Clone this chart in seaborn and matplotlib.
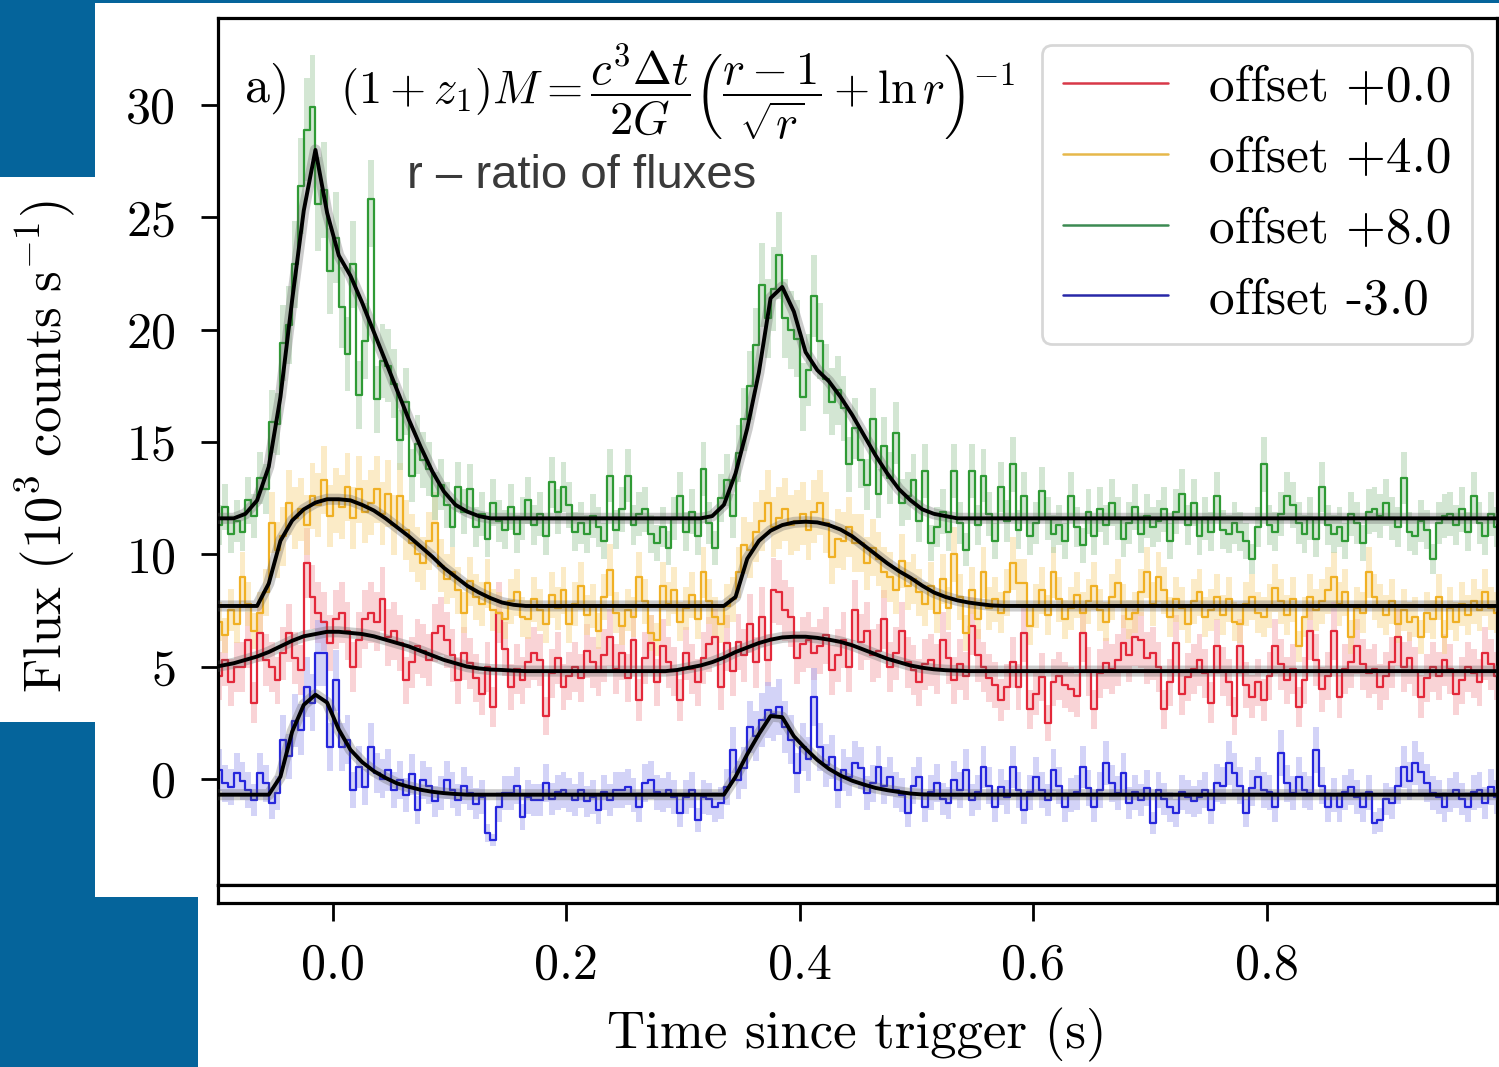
import numpy as np
import matplotlib
matplotlib.use("Agg")
import matplotlib.pyplot as plt
from matplotlib.patches import Rectangle
from matplotlib.lines import Line2D
import seaborn as sns

# ---------------------------------------------------------------------------
# Light curves (10^3 counts / s), 5 ms bins starting at t = -0.1 s
# ---------------------------------------------------------------------------
bin_start = -0.1
bin_width = 0.005

green_rate = [
    3.3, 4.1, 2.9, 3.5, 3.0, 4.4, 3.7, 5.4, 4.9, 7.9,
    7.8, 11.4, 12.2, 14.9, 18.4, 20.9, 21.9, 17.6, 18.2, 14.6,
    16.1, 13.0, 10.9, 14.9, 9.1, 11.5, 17.8, 8.9, 10.6, 10.4,
    9.6, 7.1, 8.8, 5.5, 6.9, 6.2, 5.8, 4.6, 5.1, 4.2,
    3.2, 5.0, 3.9, 4.9, 3.2, 3.8, 2.7, 4.3, 3.5, 3.1,
    4.1, 2.9, 3.6, 4.4, 3.3, 3.8, 2.8, 5.2, 3.9, 5.0,
    4.2, 3.0, 3.4, 2.9, 3.7, 3.2, 2.6, 5.5, 3.1, 4.0,
    5.5, 3.3, 3.8, 4.0, 2.9, 2.5, 3.2, 2.3, 3.6, 4.6,
    3.0, 3.9, 2.8, 5.8, 3.4, 2.3, 4.5, 5.3, 3.7, 6.5,
    8.0, 9.5, 11.3, 14.0, 12.5, 13.8, 15.3, 12.5, 12.0, 11.6,
    9.0, 10.2, 13.5, 11.5, 9.8, 8.8, 9.3, 8.5, 6.0, 7.6,
    6.2, 5.1, 8.0, 4.7, 6.8, 5.4, 7.4, 4.3, 4.6, 5.3,
    3.5, 5.7, 2.5, 3.2, 3.9, 3.0, 5.7, 3.4, 2.2, 5.7,
    3.3, 5.5, 3.8, 2.6, 5.0, 3.5, 6.0, 3.1, 4.6, 2.8,
    3.4, 4.8, 3.6, 2.9, 3.3, 2.6, 4.6, 3.2, 2.4, 3.9,
    2.8, 4.0, 3.3, 4.3, 3.6, 2.7, 3.4, 4.1, 2.9, 3.7,
    3.2, 3.5, 4.0, 2.6, 3.9, 4.7, 3.3, 4.3, 2.8, 3.6,
    3.0, 4.6, 3.1, 2.9, 3.4, 3.0, 2.6, 1.8, 3.2, 6.0,
    3.3, 3.0, 3.8, 4.6, 4.2, 3.4, 2.9, 3.6, 2.7, 5.0,
    3.3, 2.9, 3.2, 2.6, 3.8, 3.4, 2.5, 3.9, 4.0, 3.7,
    4.3, 3.6, 3.2, 5.4, 3.0, 2.8, 3.5, 3.1, 1.8, 3.4,
    3.7, 3.8, 3.3, 4.0, 3.0, 4.6, 3.4, 2.8, 3.8, 3.2,
]

orange_rate = [
    3.0, 2.4, 3.5, 2.9, 5.0, 3.8, 2.6, 3.4, 4.3, 7.4,
    6.2, 6.8, 8.3, 7.6, 8.0, 7.3, 8.6, 8.2, 9.3, 7.7,
    8.4, 8.1, 9.0, 7.6, 8.9, 7.9, 8.3, 8.9, 7.8, 8.7,
    7.3, 8.6, 7.1, 6.5, 6.0, 5.6, 6.6, 7.4, 5.5, 4.9,
    5.2, 4.4, 3.4, 4.8, 4.1, 3.8, 4.7, 3.5, 3.4, 3.1,
    3.9, 4.3, 3.2, 3.1, 4.0, 3.5, 2.9, 4.2, 3.6, 4.4,
    2.9, 3.8, 4.6, 3.3, 3.7, 2.6, 4.1, 5.3, 3.4, 2.8,
    3.5, 3.2, 5.0, 3.9, 2.5, 2.2, 4.6, 3.8, 4.4, 3.0,
    3.6, 4.2, 3.1, 5.2, 3.9, 3.2, 2.9, 3.7, 4.0, 5.2,
    6.4, 6.2, 7.0, 7.5, 8.3, 7.2, 7.6, 8.0, 7.3, 7.5,
    7.8, 7.1, 7.9, 8.3, 7.4, 5.9, 6.7, 6.6, 7.2, 6.5,
    6.5, 5.6, 6.3, 5.8, 5.2, 5.0, 4.4, 5.7, 4.6, 4.9,
    4.3, 3.8, 4.6, 3.4, 4.9, 3.6, 6.0, 4.1, 2.5, 4.4,
    3.1, 5.2, 3.6, 4.0, 3.4, 4.3, 5.6, 4.7, 4.7, 2.8,
    3.7, 4.4, 3.3, 5.2, 4.0, 3.1, 3.6, 4.2, 3.4, 3.9,
    4.6, 3.5, 3.0, 4.1, 4.7, 3.7, 3.1, 3.4, 4.3, 5.2,
    3.8, 5.0, 4.4, 3.2, 4.0, 3.6, 2.9, 3.9, 4.3, 3.2,
    3.5, 4.1, 3.3, 4.0, 3.0, 2.9, 3.8, 4.1, 3.4, 3.2,
    3.7, 4.5, 3.9, 3.3, 4.0, 1.9, 3.2, 4.1, 3.5, 3.9,
    4.4, 5.0, 3.8, 4.3, 2.3, 3.6, 3.4, 5.2, 4.1, 3.7,
    3.3, 3.9, 2.9, 3.5, 3.0, 3.2, 2.3, 3.4, 3.1, 4.1,
    2.3, 3.6, 3.0, 3.8, 3.3, 3.9, 3.5, 4.3, 3.6, 3.4,
]

red_rate = [
    4.6, 5.3, 4.3, 5.0, 5.0, 6.2, 3.4, 6.5, 5.3, 5.0,
    4.4, 5.6, 6.5, 5.4, 4.85, 9.6, 8.1, 7.4, 7.0, 6.05,
    7.1, 7.4, 6.6, 5.0, 6.2, 7.1, 7.4, 7.0, 8.0, 6.3,
    6.6, 6.05, 4.4, 5.2, 5.9, 5.7, 5.3, 6.5, 6.8, 6.2,
    5.5, 4.4, 5.6, 5.15, 4.5, 3.8, 5.0, 3.2, 7.4, 5.8,
    4.1, 4.9, 4.4, 5.2, 5.6, 5.3, 2.8, 4.7, 5.4, 4.1,
    4.6, 5.0, 4.5, 5.7, 5.2, 4.8, 5.5, 6.3, 4.9, 5.6,
    4.5, 6.2, 3.5, 5.4, 6.05, 4.3, 5.9, 5.2, 4.8, 3.5,
    5.6, 4.9, 4.3, 5.4, 6.0, 6.3, 4.1, 6.05, 4.8, 6.1,
    5.5, 6.9, 5.2, 7.2, 5.3, 8.4, 8.3, 7.5, 7.2, 5.4,
    6.0, 6.2, 5.6, 5.9, 6.4, 4.85, 5.5, 6.2, 5.0, 7.5,
    6.1, 6.6, 5.5, 5.7, 7.1, 5.0, 5.6, 6.6, 5.2, 4.85,
    4.3, 5.1, 5.3, 4.9, 6.2, 5.4, 4.4, 5.1, 4.6, 6.8,
    5.5, 5.0, 4.5, 4.2, 3.5, 4.1, 5.2, 4.1, 6.5, 3.1,
    3.8, 4.55, 2.5, 4.3, 4.6, 4.2, 4.0, 3.7, 6.5, 4.8,
    3.1, 4.7, 5.15, 4.9, 5.3, 6.05, 5.5, 6.3, 6.2, 5.4,
    5.6, 5.0, 3.1, 4.3, 6.05, 3.8, 4.55, 4.9, 5.3, 4.7,
    3.4, 5.9, 4.8, 4.3, 2.8, 5.9, 4.2, 3.65, 4.3, 3.5,
    4.6, 5.9, 5.1, 4.4, 4.9, 3.2, 4.4, 6.6, 5.3, 4.0,
    4.6, 6.6, 3.65, 4.9, 5.2, 5.9, 5.1, 4.7, 4.9, 4.1,
    4.6, 5.2, 6.3, 5.0, 5.4, 4.8, 3.65, 4.5, 5.0, 4.6,
    5.3, 4.9, 3.8, 4.4, 5.0, 4.7, 4.3, 5.6, 5.1, 4.6,
]

blue_rate = [
    3.4, 2.8, 2.64, 3.27, 2.9, 2.51, 2.07, 3.27, 2.8, 1.93,
    2.38, 4.74, 4.0, 5.6, 5.2, 7.1, 6.4, 8.6, 8.6, 4.42,
    7.4, 4.42, 4.74, 2.51, 3.53, 2.64, 4.42, 3.27, 3.0, 3.4,
    2.51, 2.96, 2.3, 3.2, 1.62, 2.96, 2.7, 2.0, 2.38, 2.96,
    2.5, 2.07, 2.7, 2.38, 1.9, 2.2, 0.6, 0.28, 1.75, 2.38,
    2.38, 2.7, 1.31, 2.2, 2.07, 2.07, 2.82, 2.1, 2.4, 2.51,
    2.3, 2.07, 2.5, 2.0, 2.2, 1.62, 2.4, 2.07, 2.5, 2.51,
    2.64, 2.3, 1.75, 2.82, 2.96, 2.4, 2.3, 2.5, 2.2, 1.49,
    2.2, 2.5, 1.17, 2.2, 2.1, 1.75, 1.93, 2.64, 4.29, 2.96,
    3.5, 5.31, 4.9, 5.63, 6.07, 5.9, 6.2, 5.31, 4.74, 3.27,
    4.42, 3.9, 6.65, 4.42, 3.6, 3.98, 2.51, 3.4, 3.1, 3.71,
    3.5, 2.38, 2.8, 3.53, 2.7, 3.1, 2.51, 2.3, 1.49, 2.7,
    3.1, 1.75, 2.4, 2.82, 2.1, 1.93, 2.96, 2.5, 3.4, 2.07,
    2.4, 3.53, 2.7, 1.75, 2.64, 2.2, 3.53, 2.5, 1.62, 2.4,
    3.1, 2.5, 2.07, 3.4, 2.7, 1.75, 2.3, 2.4, 3.53, 2.6,
    1.75, 2.5, 3.71, 2.8, 2.38, 3.27, 1.93, 2.4, 2.07, 2.6,
    1.04, 2.51, 2.1, 1.75, 1.49, 2.4, 2.2, 2.0, 2.2, 2.5,
    1.62, 2.82, 2.7, 3.71, 3.27, 2.7, 1.49, 2.6, 3.1, 2.51,
    2.4, 1.75, 4.16, 2.8, 2.38, 3.1, 2.5, 2.38, 4.29, 2.7,
    1.75, 2.3, 1.75, 2.4, 2.64, 2.2, 1.75, 2.4, 1.04, 1.17,
    2.1, 1.93, 2.7, 3.53, 2.9, 3.71, 3.3, 2.82, 2.38, 2.2,
    1.75, 2.3, 2.51, 2.1, 1.75, 2.4, 2.51, 1.93, 2.64, 2.2,
]

# ---------------------------------------------------------------------------
# Fitted lens model, sampled every 10 ms starting at t = -0.105 s
# ---------------------------------------------------------------------------
model_start = -0.105
model_step = 0.01

green_model = [
    3.6, 3.6, 3.6, 3.8, 4.4, 5.9, 9.0, 13.3, 17.3, 20.0,
    17.2, 15.3, 14.4, 13.2, 11.9, 10.6, 9.3, 8.0, 6.8, 5.7,
    4.8, 4.2, 3.9, 3.7, 3.6, 3.6, 3.6, 3.6, 3.6, 3.6,
    3.6, 3.6, 3.6, 3.6, 3.6, 3.6, 3.6, 3.6, 3.6, 3.6,
    3.6, 3.6, 3.6, 3.7, 4.2, 5.6, 7.6, 10.1, 13.4, 13.9,
    12.8, 11.0, 10.2, 9.7, 9.0, 8.2, 7.3, 6.4, 5.6, 4.9,
    4.4, 4.0, 3.8, 3.7, 3.6, 3.6, 3.6, 3.6, 3.6, 3.6,
    3.6, 3.6, 3.6, 3.6, 3.6, 3.6, 3.6, 3.6, 3.6, 3.6,
    3.6, 3.6, 3.6, 3.6, 3.6, 3.6, 3.6, 3.6, 3.6, 3.6,
    3.6, 3.6, 3.6, 3.6, 3.6, 3.6, 3.6, 3.6, 3.6, 3.6,
    3.6, 3.6, 3.6, 3.6, 3.6, 3.6, 3.6, 3.6, 3.6, 3.6,
    3.6, 3.6,
]

orange_model = [
    3.7, 3.7, 3.7, 3.7, 3.7, 4.7, 6.6, 7.5, 8.0, 8.3,
    8.45, 8.45, 8.4, 8.2, 7.95, 7.6, 7.2, 6.8, 6.35, 5.9,
    5.4, 5.0, 4.6, 4.3, 4.05, 3.85, 3.75, 3.7, 3.7, 3.7,
    3.7, 3.7, 3.7, 3.7, 3.7, 3.7, 3.7, 3.7, 3.7, 3.7,
    3.7, 3.7, 3.7, 3.7, 3.7, 4.1, 5.8, 6.6, 7.05, 7.3,
    7.42, 7.45, 7.42, 7.3, 7.1, 6.8, 6.4, 6.0, 5.6, 5.25,
    4.95, 4.6, 4.3, 4.1, 3.95, 3.85, 3.78, 3.72, 3.7, 3.7,
    3.7, 3.7, 3.7, 3.7, 3.7, 3.7, 3.7, 3.7, 3.7, 3.7,
    3.7, 3.7, 3.7, 3.7, 3.7, 3.7, 3.7, 3.7, 3.7, 3.7,
    3.7, 3.7, 3.7, 3.7, 3.7, 3.7, 3.7, 3.7, 3.7, 3.7,
    3.7, 3.7, 3.7, 3.7, 3.7, 3.7, 3.7, 3.7, 3.7, 3.7,
    3.7, 3.7,
]

red_model = [
    4.95, 5.05, 5.15, 5.3, 5.45, 5.65, 5.9, 6.15, 6.35, 6.45,
    6.55, 6.55, 6.5, 6.45, 6.35, 6.2, 6.05, 5.9, 5.7, 5.5,
    5.3, 5.15, 5.0, 4.92, 4.87, 4.85, 4.82, 4.8, 4.8, 4.8,
    4.8, 4.8, 4.8, 4.8, 4.8, 4.8, 4.8, 4.8, 4.8, 4.8,
    4.85, 4.95, 5.05, 5.2, 5.4, 5.65, 5.85, 6.05, 6.2, 6.3,
    6.33, 6.33, 6.28, 6.2, 6.1, 5.95, 5.75, 5.55, 5.35, 5.2,
    5.05, 4.95, 4.88, 4.84, 4.82, 4.8, 4.8, 4.8, 4.8, 4.8,
    4.8, 4.8, 4.8, 4.8, 4.8, 4.8, 4.8, 4.8, 4.8, 4.8,
    4.8, 4.8, 4.8, 4.8, 4.8, 4.8, 4.8, 4.8, 4.8, 4.8,
    4.8, 4.8, 4.8, 4.8, 4.8, 4.8, 4.8, 4.8, 4.8, 4.8,
    4.8, 4.8, 4.8, 4.8, 4.8, 4.8, 4.8, 4.8, 4.8, 4.8,
    4.8, 4.8,
]

blue_model = [
    2.3, 2.3, 2.3, 2.3, 2.3, 2.3, 3.1, 5.1, 6.3, 6.75,
    6.4, 5.2, 4.3, 3.75, 3.35, 3.05, 2.8, 2.65, 2.52, 2.43,
    2.37, 2.33, 2.3, 2.3, 2.3, 2.3, 2.3, 2.3, 2.3, 2.3,
    2.3, 2.3, 2.3, 2.3, 2.3, 2.3, 2.3, 2.3, 2.3, 2.3,
    2.3, 2.3, 2.3, 2.3, 2.3, 3.1, 4.1, 5.0, 5.8, 5.75,
    4.9, 4.35, 3.85, 3.45, 3.15, 2.92, 2.75, 2.6, 2.5, 2.42,
    2.35, 2.31, 2.3, 2.3, 2.3, 2.3, 2.3, 2.3, 2.3, 2.3,
    2.3, 2.3, 2.3, 2.3, 2.3, 2.3, 2.3, 2.3, 2.3, 2.3,
    2.3, 2.3, 2.3, 2.3, 2.3, 2.3, 2.3, 2.3, 2.3, 2.3,
    2.3, 2.3, 2.3, 2.3, 2.3, 2.3, 2.3, 2.3, 2.3, 2.3,
    2.3, 2.3, 2.3, 2.3, 2.3, 2.3, 2.3, 2.3, 2.3, 2.3,
    2.3, 2.3,
]

channels = ["red", "orange", "green", "blue"]
offsets = [0.0, 4.0, 8.0, -3.0]
legend_labels = ["offset +0.0", "offset +4.0", "offset +8.0", "offset -3.0"]
line_colors = ["#e3283a", "#f0b024", "#2f9a35", "#2626dc"]
legend_colors = ["#d83848", "#e6b84a", "#3c8a52", "#2828a8"]
band_colors = ["#f4a8ae", "#f8d890", "#a8cfa8", "#a8a8f0"]
rates = [red_rate, orange_rate, green_rate, blue_rate]
models = [red_model, orange_model, green_model, blue_model]

y_ticks = [0, 5, 10, 15, 20, 25, 30]
x_ticks = [0.0, 0.2, 0.4, 0.6, 0.8]
x_tick_labels = ["0.0", "0.2", "0.4", "0.6", "0.8"]

# ---------------------------------------------------------------------------
sns.set_theme(style="white")
plt.rcParams.update({
    "font.family": ["cmr10", "DejaVu Serif"],
    "mathtext.fontset": "cm",
    "axes.unicode_minus": False,
    "axes.formatter.use_mathtext": True,
    "text.color": "black",
    "axes.labelcolor": "black",
    "xtick.color": "black",
    "ytick.color": "black",
    "axes.edgecolor": "black",
})

W, H = 1499, 1067
fig = plt.figure(figsize=(W / 100, H / 100), dpi=100)
fig.patch.set_facecolor("white")

ax = fig.add_axes([218 / W, 1 - 885 / H, 1279 / W, 867 / H])
ax_res = fig.add_axes([218 / W, 1 - 903 / H, 1279 / W, 18 / H], sharex=ax)

for rate, model, off, lc, bc in zip(rates, models, offsets, line_colors, band_colors):
    rate = np.asarray(rate)
    t = bin_start + bin_width * (np.arange(len(rate)) + 0.5)
    y = rate + off
    err = 0.5 * np.sqrt(np.clip(rate, 0.3, None))
    ax.fill_between(t, y - err, y + err, step="mid", color=bc, alpha=0.5, lw=0, zorder=1)
    sns.lineplot(x=t, y=y, ax=ax, color=lc, lw=1.6, drawstyle="steps-mid",
                 estimator=None, sort=False, legend=False, zorder=2)

for model, off in zip(models, offsets):
    model = np.asarray(model)
    tm = model_start + model_step * np.arange(len(model))
    ym = model + off
    sns.lineplot(x=tm, y=ym, ax=ax, color="0.35", lw=8, alpha=0.3,
                 estimator=None, sort=False, legend=False, zorder=3)
    sns.lineplot(x=tm, y=ym, ax=ax, color="black", lw=2.8,
                 estimator=None, sort=False, legend=False, zorder=4)

ax.set_xlim(-0.0985, 0.9975)
ax.set_ylim(-4.72, 33.87)
ax.set_yticks(y_ticks)
ax.set_yticklabels([str(v) for v in y_ticks])
ax.tick_params(axis="y", direction="out", length=12, width=2, labelsize=36, pad=18, left=True)
ax.tick_params(axis="x", bottom=False, labelbottom=False)
ax.set_xlabel("")
ax.set_ylabel("")

ax_res.set_ylim(-1, 1)
ax_res.set_yticks([])
ax_res.set_xticks(x_ticks)
ax_res.set_xticklabels(x_tick_labels)
ax_res.tick_params(axis="x", direction="out", length=13, width=2, labelsize=36, pad=16, bottom=True)

for a in (ax, ax_res):
    for s in a.spines.values():
        s.set_linewidth(2.3)
        s.set_color("black")
        s.set_visible(True)

handles = [Line2D([0], [0], color=c, lw=1.8) for c in legend_colors]
leg = ax.legend(handles, legend_labels, loc="upper right", bbox_to_anchor=(0.9805, 0.969),
                borderaxespad=0, fontsize=37, frameon=True, fancybox=True, framealpha=0.85,
                edgecolor="0.82", borderpad=0.4, handlelength=2.05, handletextpad=0.8,
                labelspacing=0.48)
leg.get_frame().set_linewidth(2.0)

# slide decoration
deco = "#05649b"
for (x0, y0, w, h) in [(0, 0, 95, 177), (0, 722, 95, 175), (0, 897, 198, 170), (95, 0, 1404, 2.5)]:
    fig.add_artist(Rectangle((x0 / W, 1 - (y0 + h) / H), w / W, h / H,
                             transform=fig.transFigure, facecolor=deco, edgecolor="none", zorder=10))

# formula panel
fig.add_artist(Rectangle((327 / W, 1 - 160 / H), (1020 - 327) / W, (160 - 22) / H,
                         transform=fig.transFigure, facecolor="white", edgecolor="none", zorder=10))
fig.add_artist(Rectangle((398 / W, 1 - 200 / H), (775 - 398) / W, 50 / H,
                         transform=fig.transFigure, facecolor="white", edgecolor="none", zorder=10))
fig.text(340 / W, 1 - 92 / H,
         r"$(1+z_1)M=\dfrac{c^3\Delta t}{2G}\left(\dfrac{r-1}{\sqrt{r}}+\ln r\right)^{-1}$",
         fontsize=33.5, ha="left", va="center", zorder=11)
fig.text(407 / W, 1 - 176 / H, "r \u2013 ratio of fluxes", family="Liberation Sans",
         fontsize=34, color="#3a3a3a", ha="left", va="center", zorder=11)
fig.text(245 / W, 1 - 88 / H, "a)", fontsize=36, ha="left", va="center", zorder=11)

fig.text(45 / W, 1 - 447 / H, r"Flux $(10^3\ \mathrm{counts}\ \mathrm{s}^{-1})$",
         rotation=90, fontsize=38, ha="center", va="center")
fig.text(857 / W, 1 - 1035 / H, "Time since trigger (s)", fontsize=38, ha="center", va="center")

fig.savefig("out.png", dpi=100, facecolor="white")
